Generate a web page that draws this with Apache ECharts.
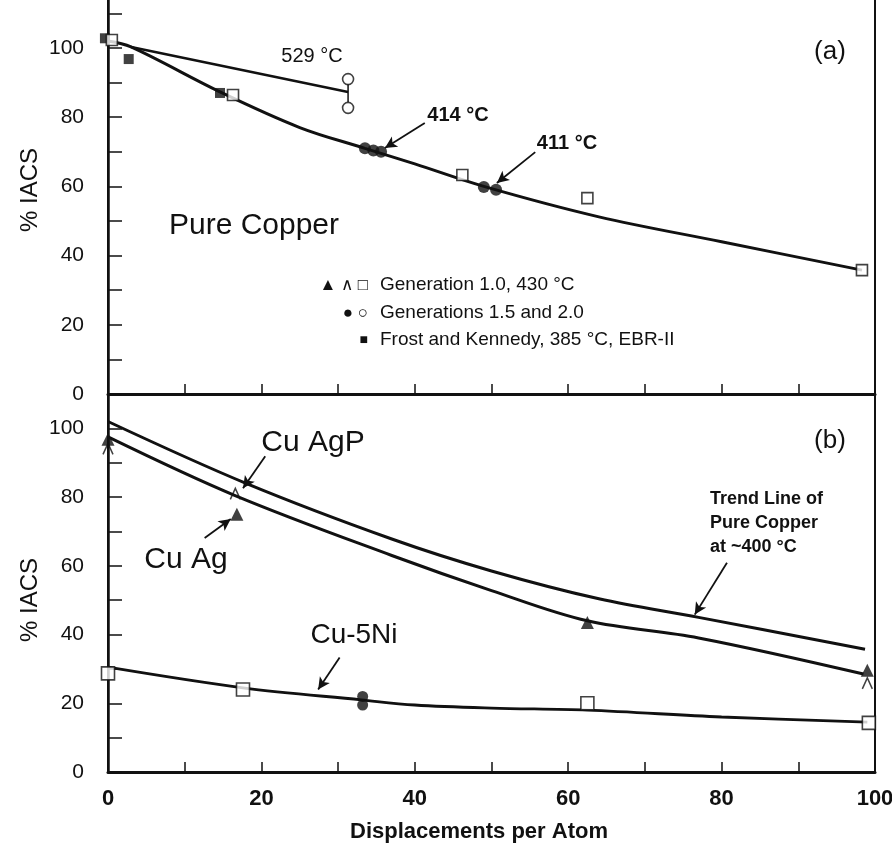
<!DOCTYPE html>
<html>
<head>
<meta charset="utf-8">
<script src="https://cdn.jsdelivr.net/npm/echarts@6/dist/echarts.min.js"></script>
<style>
	html, body { margin: 0; padding: 0; background: #fff; }
	#chart { width: 892px; height: 855px; }
</style>
</head>
<body>
<div id="chart"></div>
<script>
// panel (a): pure copper
var cuX = [0, 3, 14.6, 25, 33.5, 40, 49, 64, 80, 98.3]
var cuY = [102, 100.3, 87.3, 77, 71, 66.5, 60, 51.2, 44, 35.8]
var hot529X = [3, 31.3]
var hot529Y = [100.3, 87.3]
var gen10SqX = [0.5, 16.3, 46.2, 62.5, 98.3]
var gen10SqY = [102.3, 86.4, 63.3, 56.6, 35.8]
var gen15FilledX = [33.5, 34.6, 35.6, 49, 50.6]
var gen15FilledY = [71, 70.4, 70, 59.8, 59]
var gen15OpenX = [31.3, 31.3]
var gen15OpenY = [91, 82.7]
var frostX = [-0.4, 2.7, 14.6]
var frostY = [102.8, 96.8, 87]

// panel (b): alloys
var trendX = [0, 18, 37, 50, 64, 77, 98.7]
var trendY = [102, 84, 67.8, 58.5, 50.4, 45, 35.7]
var cuAgX = [0, 16.5, 37, 50, 62.5, 77, 98.5]
var cuAgY = [97.5, 80.5, 63, 52.8, 44, 39, 28.5]
var ni5X = [0, 17.6, 33, 40, 50, 62.5, 80, 99]
var ni5Y = [30.5, 24.5, 21, 19.5, 18.6, 18, 16, 14.5]
var triFilledX = [0, 16.8, 62.5, 99]
var triFilledY = [96.8, 75, 43.5, 29.6]
var triOpenX = [0, 16.6, 99]
var triOpenY = [94, 80.9, 25.8]
var niSqX = [0, 17.6, 62.5, 99.2]
var niSqY = [28.7, 24, 20, 14.3]
var niCircX = [33.2, 33.2]
var niCircY = [22, 19.5]

var xTicks = [0, 20, 40, 60, 80, 100]
var yTicks = [0, 20, 40, 60, 80, 100]

var FONT = 'Liberation Sans, Arial, sans-serif'
var INK = '#111'

function zip(xs, ys) {
	return xs.map(function(x, i) { return [x, ys[i]] })
}

function xAxisFor(gi, labels) {
	return {
		type: 'value', gridIndex: gi, min: 0, max: 100, interval: 10,
		axisLine: { show: true, lineStyle: { color: INK, width: 3 } },
		axisTick: { show: true, inside: true, length: 10, lineStyle: { color: INK, width: 1.5 } },
		splitLine: { show: false },
		axisLabel: {
			show: labels, margin: 16, color: INK, fontFamily: FONT, fontSize: 22, fontWeight: 'bold',
			formatter: function(v) { return xTicks.indexOf(v) >= 0 ? String(v) : '' }
		}
	}
}

function yAxisFor(gi, max) {
	return {
		type: 'value', gridIndex: gi, min: 0, max: max, interval: 10,
		axisLine: { show: true, lineStyle: { color: INK, width: 2.5 } },
		axisTick: { show: true, inside: true, length: 14, lineStyle: { color: INK, width: 1.5 } },
		splitLine: { show: false },
		axisLabel: {
			margin: 24, color: INK, fontFamily: FONT, fontSize: 21,
			formatter: function(v) { return yTicks.indexOf(v) >= 0 ? String(v) : '' }
		}
	}
}

function curve(gi, xs, ys, w) {
	return {
		type: 'line', xAxisIndex: gi, yAxisIndex: gi, data: zip(xs, ys),
		smooth: 0.35, showSymbol: false, symbol: 'none',
		lineStyle: { color: INK, width: w || 3 }, z: 3
	}
}

function marks(gi, xs, ys, symbol, size, filled) {
	return {
		type: 'scatter', xAxisIndex: gi, yAxisIndex: gi, data: zip(xs, ys),
		symbol: symbol, symbolSize: size, clip: false, z: 5,
		itemStyle: filled ? { color: INK } : { color: '#fff', borderColor: INK, borderWidth: 1.6 }
	}
}

function arrows(gi, list) {
	return {
		type: 'line', xAxisIndex: gi, yAxisIndex: gi, data: [], z: 6,
		markLine: {
			silent: true, animation: false,
			symbol: ['none', 'arrow'], symbolSize: [9, 12],
			label: { show: false },
			lineStyle: { color: INK, width: 1.8, type: 'solid' },
			data: list.map(function(a) {
				return [{ coord: [a[0], a[1]] }, { coord: [a[2], a[3]] }]
			})
		}
	}
}

function txt(x, y, s, size, weight, align) {
	return {
		type: 'text', x: x, y: y, z: 50,
		style: {
			text: s, fill: INK, font: (weight || 'normal') + ' ' + size + 'px ' + FONT,
			textAlign: align || 'center', textVerticalAlign: 'middle', lineHeight: 24
		}
	}
}

var chart = echarts.init(document.getElementById('chart'))

var option = {
	animation: false,
	backgroundColor: '#fff',
	grid: [
		{ left: 108, right: 17, top: -6, height: 400, outerBoundsMode: 'none', containLabel: false,
			show: true, borderColor: INK, borderWidth: 2 },
		{ left: 108, right: 17, top: 394, height: 378, outerBoundsMode: 'none', containLabel: false,
			show: true, borderColor: INK, borderWidth: 2 }
	],
	xAxis: [xAxisFor(0, false), xAxisFor(1, true)],
	yAxis: [yAxisFor(0, 115.6), yAxisFor(1, 110)],
	series: [
		curve(0, cuX, cuY),
		curve(0, hot529X, hot529Y, 2.6),
		{
			type: 'line', xAxisIndex: 0, yAxisIndex: 0, symbol: 'none',
			data: [[gen15OpenX[0], 89.5], [gen15OpenX[1], 84.3]],
			lineStyle: { color: INK, width: 1.5 }
		},
		marks(0, frostX, frostY, 'rect', 10, true),
		marks(0, gen10SqX, gen10SqY, 'rect', 11, false),
		marks(0, gen15FilledX, gen15FilledY, 'circle', 12, true),
		marks(0, gen15OpenX, gen15OpenY, 'circle', 11, false),
		arrows(0, [[41.3, 78.3, 36.1, 71.1], [55.7, 69.9, 50.7, 61]]),

		curve(1, trendX, trendY),
		curve(1, cuAgX, cuAgY),
		curve(1, ni5X, ni5Y, 2.8),
		marks(1, triFilledX, triFilledY, 'triangle', 13, true),
		{
			type: 'scatter', xAxisIndex: 1, yAxisIndex: 1, data: zip(triOpenX, triOpenY),
			symbol: 'path://M0,10 L5,0 L10,10', symbolSize: [10, 11], clip: false, z: 5,
			itemStyle: { color: 'rgba(0,0,0,0)', borderColor: INK, borderWidth: 1.6 }
		},
		marks(1, niSqX, niSqY, 'rect', 13, false),
		marks(1, niCircX, niCircY, 'circle', 11, true),
		arrows(1, [[20.5, 91.9, 17.6, 82.6], [12.6, 68.1, 16, 73.6], [80.7, 60.9, 76.5, 45.8], [30.2, 33.3, 27.4, 24]])
	],
	graphic: [
		txt(312, 56, '529 °C', 20),
		txt(458, 115, '414 °C', 20, 'bold'),
		txt(567, 143, '411 °C', 20, 'bold'),
		txt(830, 52, '(a)', 26),
		txt(254, 226, 'Pure Copper', 30),
		txt(368, 285, '▲ ∧ □', 17, 'normal', 'right'),
		txt(368, 313, '● ○', 17, 'normal', 'right'),
		txt(368, 340, '■', 14, 'normal', 'right'),
		txt(380, 285, 'Generation 1.0, 430 °C', 19, 'normal', 'left'),
		txt(380, 313, 'Generations 1.5 and 2.0', 19, 'normal', 'left'),
		txt(380, 340, 'Frost and Kennedy, 385 °C, EBR-II', 19, 'normal', 'left'),
		txt(830, 441, '(b)', 26),
		txt(313, 443, 'Cu AgP', 30),
		txt(186, 560, 'Cu Ag', 30),
		txt(354, 635, 'Cu-5Ni', 28),
		txt(710, 523, 'Trend Line of\nPure Copper\nat ~400 °C', 18, 'bold', 'left'),
		txt(479, 832, 'Displacements per Atom', 22, 'bold'),
		{ type: 'text', x: 30, y: 190, rotation: Math.PI / 2, z: 50,
			style: { text: '% IACS', fill: INK, font: '24px ' + FONT, textAlign: 'center', textVerticalAlign: 'middle' } },
		{ type: 'text', x: 30, y: 600, rotation: Math.PI / 2, z: 50,
			style: { text: '% IACS', fill: INK, font: '24px ' + FONT, textAlign: 'center', textVerticalAlign: 'middle' } }
	]
}

chart.setOption(option)
</script>
</body>
</html>
